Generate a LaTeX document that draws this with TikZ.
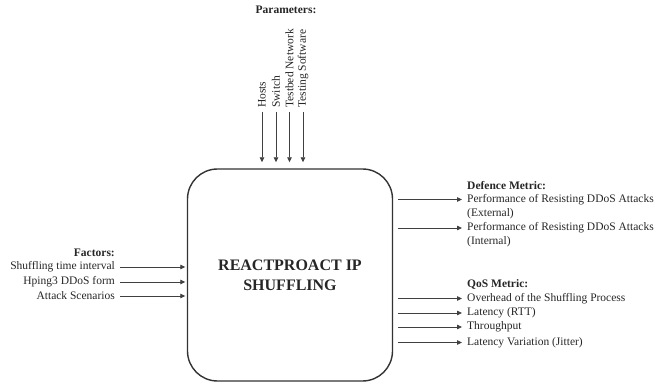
\documentclass[tikz,border=0pt]{standalone}
\usepackage{fontspec}
\setmainfont{Liberation Serif}
\usetikzlibrary{arrows.meta}
\begin{document}
\begin{tikzpicture}[x=1pt,y=-1pt,
  txt/.style={inner sep=0pt,font=\fontsize{11.5}{13}\selectfont,text=black!85},
  hd/.style={txt,font=\fontsize{11.5}{13}\selectfont\bfseries},
  conn/.style={draw=black!75,line width=0.8pt,-{Triangle[length=5pt,width=4.5pt]}},
  mainbox/.style={draw=black!80,line width=1.4pt,rounded corners=30pt,minimum width=205pt,minimum height=212pt,inner sep=0pt,align=center,font=\fontsize{16}{20}\selectfont\bfseries,text=black!85}]
\useasboundingbox (0,0) rectangle (662,385);
\node[mainbox] (box) at (290,275) {REACTPROACT IP\\SHUFFLING};
% top parameters
\node[hd] (par) at (286,10) {Parameters:};
\node[txt,rotate=90,anchor=west] (p1) at (262,108) {Hosts};
\node[txt,rotate=90,anchor=west] (p2) at (276,108) {Switch};
\node[txt,rotate=90,anchor=west] (p3) at (289.5,108) {Testbed Network};
\node[txt,rotate=90,anchor=west] (p4) at (303,108) {Testing Software};
\foreach \n in {p1,p2,p3,p4}
  \draw[conn,shorten <=4pt,shorten >=6pt] (\n.west) -- (\n.west |- box.north);
% left factors
\node[hd,anchor=east] (fac) at (115,253) {Factors:};
\node[txt,anchor=east] (f1) at (115,267) {Shuffling time interval};
\node[txt,anchor=east] (f2) at (115,282) {Hping3 DDoS form};
\node[txt,anchor=east] (f3) at (115,296) {Attack Scenarios};
\foreach \n in {f1,f2,f3}
  \draw[conn,shorten <=5pt,shorten >=1.5pt] (\n.east) -- (\n.east -| box.west);
% right metrics
\node[hd,anchor=west] (dm) at (467,186) {Defence Metric:};
\node[txt,anchor=west] (d1) at (467,199.5) {Performance of Resisting DDoS Attacks};
\node[txt,anchor=west] (d1b) at (467,213.5) {(External)};
\node[txt,anchor=west] (d2) at (467,228) {Performance of Resisting DDoS Attacks};
\node[txt,anchor=west] (d2b) at (467,242) {(Internal)};
\node[hd,anchor=west] (qm) at (467,284) {QoS Metric:};
\node[txt,anchor=west] (q1) at (467,298.5) {Overhead of the Shuffling Process};
\node[txt,anchor=west] (q2) at (467,313) {Latency (RTT)};
\node[txt,anchor=west] (q3) at (467,327) {Throughput};
\node[txt,anchor=west] (q4) at (467,342.5) {Latency Variation (Jitter)};
\foreach \n in {d1,d2,q1,q2,q3,q4}
  \draw[conn,shorten <=5pt,shorten >=5pt] (box.east |- \n.west) -- (\n.west);
\end{tikzpicture}
\end{document}
